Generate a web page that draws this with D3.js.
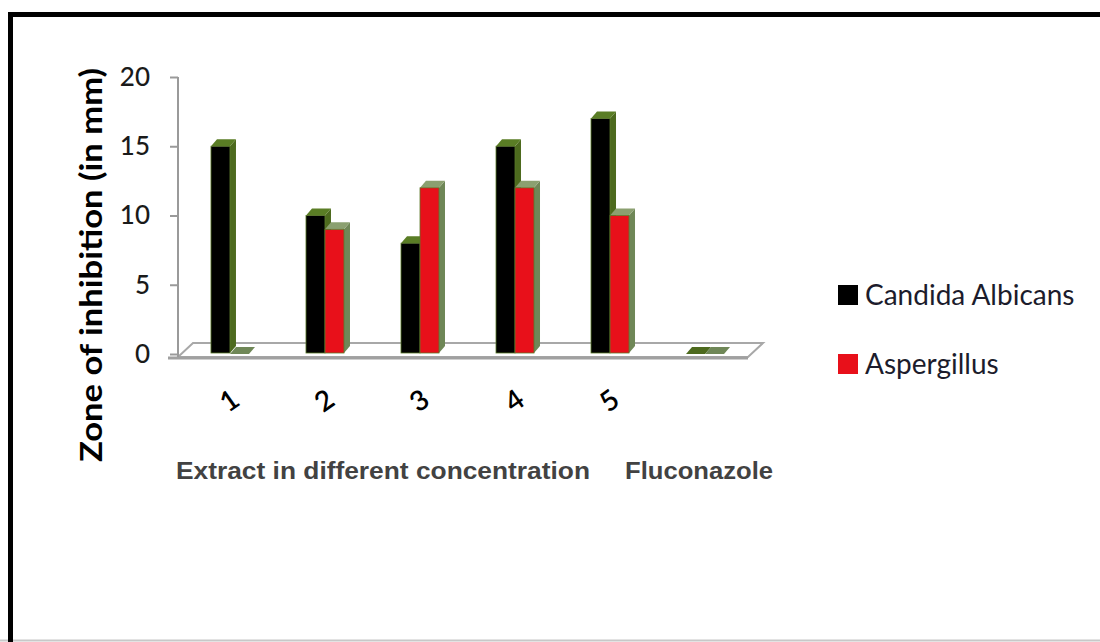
<!DOCTYPE html>
<html>
<head>
<meta charset="utf-8">
<script src="https://cdn.jsdelivr.net/npm/d3@7"></script>
<style>
  body { margin: 0; background: #fff; }
  svg { display: block; }
</style>
</head>
<body>
<svg id="chart"></svg>
<script>
// data
const categories = ["1", "2", "3", "4", "5", "Fluconazole"];
const concentrations = ["1", "2", "3", "4", "5"];
const seriesNames = ["Candida Albicans", "Aspergillus"];
const candida = [15, 10, 8, 15, 17, 0];
const aspergillus = [0, 9, 12, 12, 10, 0];
const yTicks = [0, 5, 10, 15, 20];

const width = 1100, height = 642;
const svg = d3.select('#chart').attr('width', width).attr('height', height);

// frame
svg.append('line').attr('x1', 0).attr('x2', width).attr('y1', 640.5).attr('y2', 640.5)
    .attr('stroke', '#c8c8c8').attr('stroke-width', 2);
svg.append('path').attr('d', 'M10.5,642V14.5H1100')
    .attr('fill', 'none').attr('stroke', '#000').attr('stroke-width', 5);

const y = d3.scaleLinear().domain([0, 20]).range([354, 77]);
const x0 = d3.scaleBand().domain(categories).range([182, 753])
    .paddingInner(0.6).paddingOuter(0.305);
const x1 = d3.scaleBand().domain(seriesNames).range([0, x0.bandwidth()]);

const colors = { "Candida Albicans": "#000000", "Aspergillus": "#e8101a" };
const sideCol = { "Candida Albicans": "#4d6a1e", "Aspergillus": "#6f8757" };
const topCol = { "Candida Albicans": "#5a7d25", "Aspergillus": "#8ba070" };
const dx = 6, dy = -7;

// floor
const fl = 178, fr = 748, fy = 357;
svg.append('path')
    .attr('d', `M${fl},${fy}L${fr},${fy}L${fr + 15},${fy - 14}L${fl + 15},${fy - 14}Z`)
    .attr('fill', '#fff').attr('stroke', '#a8a8a8').attr('stroke-width', 2);
svg.append('line').attr('x1', fl - 10).attr('x2', fr).attr('y1', fy + 1).attr('y2', fy + 1)
    .attr('stroke', '#a0a0a0').attr('stroke-width', 3);

// y axis
const yAxis = svg.append('g').attr('transform', 'translate(178,0)')
    .call(d3.axisLeft(y).tickValues(yTicks).tickSize(8).tickSizeOuter(0).tickPadding(20));
yAxis.select('.domain').attr('stroke', '#9a9a9a').attr('stroke-width', 2)
    .attr('d', `M0,${y(20)}V${fy}`);
yAxis.selectAll('.tick line').attr('stroke', '#9a9a9a').attr('stroke-width', 2);
yAxis.selectAll('.tick text').attr('fill', '#1a1a1a')
    .style('font-family', 'Lato, sans-serif').style('font-size', '26px').style('font-weight', 500);

// bars
const rows = [];
categories.forEach((c, i) => {
    rows.push({ cat: c, s: seriesNames[0], v: candida[i] });
    rows.push({ cat: c, s: seriesNames[1], v: aspergillus[i] });
});

const bars = svg.append('g').selectAll('g').data(rows).join('g');
const base = y(0) - 1;
bars.each(function (d) {
    const g = d3.select(this);
    const x = x0(d.cat) + x1(d.s), w = x1.bandwidth(), t = y(d.v);
    if (d.v > 0) {
        g.append('path')
            .attr('d', `M${x + w},${t}L${x + w + dx},${t + dy}L${x + w + dx},${base + dy}L${x + w},${base}Z`)
            .attr('fill', sideCol[d.s]);
    }
    g.append('path')
        .attr('d', `M${x},${t}L${x + dx},${t + dy}L${x + w + dx},${t + dy}L${x + w},${t}Z`)
        .attr('fill', d.v > 0 ? topCol[d.s] : sideCol[d.s]);
    if (d.v > 0) {
        g.append('rect').attr('x', x).attr('y', t).attr('width', w).attr('height', base - t)
            .attr('fill', colors[d.s]).attr('stroke', '#5b7a2a').attr('stroke-width', 0.8);
    }
});

// x tick labels
const xAxis = svg.append('g').attr('transform', 'translate(-8,390)')
    .call(d3.axisBottom(x0).tickValues(concentrations).tickSize(0));
xAxis.select('.domain').remove();
xAxis.selectAll('.tick text')
    .attr('transform', 'rotate(-35)').attr('dy', '0.7em')
    .attr('fill', '#000')
    .style('font-family', 'Lato, sans-serif').style('font-size', '28px').style('font-weight', 600);

svg.append('text').attr('x', 176).attr('y', 479)
    .attr('textLength', 414).attr('lengthAdjust', 'spacingAndGlyphs')
    .style('font-family', 'Liberation Sans, Arial, sans-serif').style('font-weight', 'bold')
    .style('font-size', '24px').attr('fill', '#424242')
    .text('Extract in different concentration');
svg.append('text').attr('x', 625).attr('y', 479)
    .attr('textLength', 148).attr('lengthAdjust', 'spacingAndGlyphs')
    .style('font-family', 'Liberation Sans, Arial, sans-serif').style('font-weight', 'bold')
    .style('font-size', '24px').attr('fill', '#424242')
    .text('Fluconazole');

// y title
svg.append('text')
    .attr('transform', 'translate(102,265) rotate(-90)')
    .attr('text-anchor', 'middle')
    .attr('textLength', 394).attr('lengthAdjust', 'spacingAndGlyphs')
    .style('font-family', 'Lato, sans-serif').style('font-weight', 'bold')
    .style('font-size', '31px').attr('fill', '#000')
    .text('Zone of inhibition (in mm)');

// legend
const legend = svg.append('g').selectAll('g').data(seriesNames).join('g')
    .attr('transform', (d, i) => `translate(838,${285 + i * 69})`);
legend.append('rect').attr('width', 20).attr('height', 20).attr('fill', d => colors[d]);
legend.append('text').attr('x', 27).attr('y', 10).attr('dy', '0.36em')
    .style('font-family', 'Lato, sans-serif').style('font-size', '28px')
    .attr('fill', '#1c1c2c').text(d => d);
</script>
</body>
</html>
